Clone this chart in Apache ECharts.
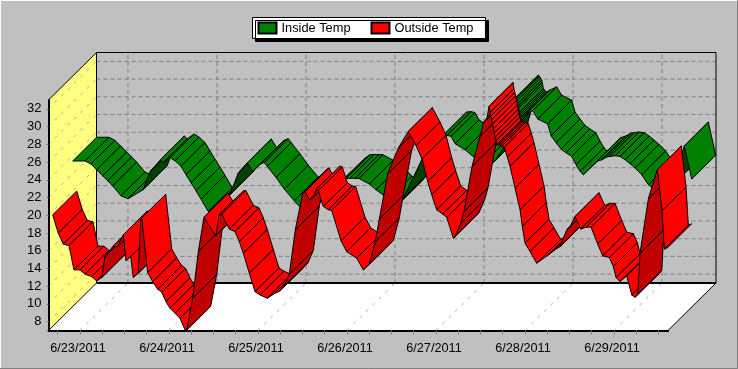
<!DOCTYPE html>
<html>
<head>
<meta charset="utf-8">
<title>Temp</title>
<script src="https://cdn.jsdelivr.net/npm/echarts@6/dist/echarts.min.js"></script>
<style>
  html, body { margin: 0; padding: 0; background: #c0c0c0; }
  #chart { width: 738px; height: 369px; }
</style>
</head>
<body>
<div id="chart"></div>
<script>
// hours are counted from 6/23/2011 00:00
const dayLabels = ["6/23/2011", "6/24/2011", "6/25/2011", "6/26/2011", "6/27/2011", "6/28/2011", "6/29/2011"];
const dayTicks = [0, 24, 48, 72, 96, 120, 144];
const xTicks = [-6, 0, 6, 12, 18, 24, 30, 36, 42, 48, 54, 60, 66, 72, 78, 84, 90, 96, 102, 108, 114, 120, 126, 132, 138, 144, 150, 156];
const yTicks = [8, 10, 12, 14, 16, 18, 20, 22, 24, 26, 28, 30, 32];

const insideHours = [-8.44, -5.12, -3.51, -1.97, -0.35, 1.0, 2.35, 4.58, 6.47, 10.52, 12.41, 15.24, 15.91, 17.8, 19.15, 20.77, 22.12, 23.46, 24.81, 26.16, 28.13, 30.21, 32.09, 33.98, 36.22, 38.65, 40.1, 42.15, 43.23, 44.04, 46.39, 48.63, 51.32, 52.86, 58.52, 59.6, 60.68, 61.76, 62.84, 63.92, 65.27, 66.35, 67.69, 68.77, 71.55, 73.35, 75.25, 76.59, 77.94, 79.29, 80.72, 85.68, 87.92, 89.81, 91.35, 92.51, 93.59, 94.67, 97.36, 100.06, 102.49, 104.1, 105.64, 107.69, 108.69, 109.5, 110.04, 110.66, 110.9, 111.23, 111.57, 111.71, 111.84, 112.0, 112.25, 112.57, 112.92, 113.81, 115.62, 116.97, 119.66, 120.56, 121.9, 123.25, 124.6, 126.14, 127.3, 128.38, 129.27, 130.62, 131.96, 132.88, 134.23, 135.58, 136.47, 137.82, 139.17, 140.52, 141.86, 143.21, 145.02, 146.8, 148.15, 149.33, 153.22, 156.5, 158.5];
const insideTemp = [23.44, 23.44, 23.1, 22.45, 21.77, 21.21, 20.64, 19.51, 19.18, 20.19, 22.23, 23.58, 23.24, 23.81, 23.47, 22.85, 21.89, 20.98, 20.08, 19.14, 17.74, 18.38, 18.95, 19.63, 22.11, 23.24, 22.26, 23.1, 23.28, 22.83, 21.58, 20.27, 18.95, 18.24, 18.84, 19.29, 19.74, 20.19, 20.64, 21.1, 21.47, 21.49, 21.49, 21.47, 20.84, 20.19, 19.63, 19.06, 18.27, 18.5, 19.25, 23.58, 24.6, 25.5, 26.29, 26.33, 26.22, 25.39, 24.71, 23.77, 23.24, 22.9, 23.58, 24.9, 26.41, 28.33, 29.46, 30.44, 30.31, 30.14, 29.88, 29.63, 29.4, 28.93, 28.78, 28.67, 28.55, 28.78, 29.12, 28.18, 27.62, 26.29, 25.5, 24.79, 24.37, 23.96, 23.02, 22.26, 21.89, 22.45, 23.02, 23.39, 23.58, 23.89, 23.96, 24.03, 23.96, 23.58, 23.13, 22.64, 21.89, 20.76, 20.38, 19.89, 20.64, 25.16, 21.4];

const outsideHours = [-7.36, -5.85, -4.5, -2.97, -1.62, 0, 1.35, 3.16, 4.5, 5.85, 6.74, 8.82, 10.06, 11.68, 12.41, 13.67, 14.37, 15.72, 16.37, 16.64, 18.26, 19.61, 20.96, 22.03, 23.19, 24.27, 25.62, 26.97, 28.32, 28.78, 30.39, 31.91, 33.44, 36.6, 37.49, 38.22, 40.27, 41.8, 42.96, 44.04, 45.66, 47.2, 48.55, 50.51, 52.59, 53.94, 55.1, 56.45, 58.07, 60.06, 60.68, 61.84, 62.92, 63.65, 64.27, 65.62, 66.97, 67.88, 70.39, 71.93, 74.62, 76.4, 78.02, 79.64, 80.72, 82.98, 85.85, 88.54, 90.62, 92.24, 93.77, 94.85, 96.2, 97.82, 98.9, 100.68, 101.14, 102.67, 103.56, 105.72, 107.88, 108.77, 109.77, 110.31, 110.57, 110.79, 111.03, 111.27, 111.51, 111.74, 111.97, 112.19, 112.38, 112.81, 113.27, 113.73, 114.43, 115.24, 115.97, 117.32, 118.67, 119.29, 120.02, 121.37, 123.17, 126.3, 128.11, 129.46, 131.26, 132.15, 133.5, 135.04, 136.47, 137.82, 139.62, 140.97, 142.75, 143.83, 144.56, 145.64, 147.44, 148.79, 149.68, 150.41, 151.03, 153.27, 155.53, 155.69, 156.96, 157.58, 158.5];
const outsideTemp = [20.05, 17.98, 16.74, 16.58, 13.84, 13.84, 13.35, 13.08, 12.59, 12.97, 15.34, 16.47, 16.44, 17.79, 14.85, 15.34, 12.97, 13.46, 19.49, 19.68, 13.53, 12.51, 11.66, 11.32, 10.25, 9.51, 8.94, 8.38, 7.06, 7.06, 10.64, 15.9, 19.79, 17.68, 20.05, 20.13, 18.44, 18.16, 17.03, 15.72, 13.46, 11.38, 11.01, 10.64, 11.2, 11.46, 12.03, 13.35, 18.36, 22.5, 22.65, 21.75, 21.97, 22.88, 22.76, 20.99, 20.62, 20.56, 17.11, 15.9, 15.16, 13.84, 14.48, 17.03, 19.57, 24.65, 27.59, 29.46, 27.85, 26.35, 23.81, 22.31, 20.62, 20.13, 19.75, 17.42, 17.6, 19.11, 20.42, 25.51, 28.9, 30.41, 31.01, 32.29, 31.58, 31.18, 30.79, 30.28, 29.77, 29.28, 28.81, 28.41, 27.96, 27.93, 27.85, 27.77, 27.66, 26.57, 25.51, 23.07, 20.62, 18.73, 16.85, 15.9, 14.59, 15.53, 16.1, 16.47, 18.36, 18.73, 19.86, 18.44, 18.66, 18.66, 16.74, 15.42, 15.23, 14.21, 12.97, 12.51, 13.16, 11.01, 10.75, 11.09, 15.72, 21.86, 24.94, 25.14, 20.5, 16.18, 16.36];

const X_MIN = -8.49;
const X_MAX = 158.57;
const Y_MIN = 7;
const Y_MAX = 33;
// projected depth of the whole box and of one ribbon, px
const DEPTH_X = 48;
const DEPTH_Y = -47.5;
const RIBBON_X = 24;
const RIBBON_Y = -23.75;

const GRID_COLOR = "#808080";
const WALL_DASH = "#a8a8a8";

function segments(hours, temps) {
  const out = [];
  for (let i = 0; i < hours.length - 1; i++) {
    out.push([hours[i], temps[i], hours[i + 1], temps[i + 1]]);
  }
  return out;
}

// one face of the ribbon per pair of points, left to right
function ribbonRenderer(offset, bright, dark) {
  return function (params, api) {
    const a = api.coord([api.value(0), api.value(1)]);
    const b = api.coord([api.value(2), api.value(3)]);
    const ox = offset * RIBBON_X;
    const oy = offset * RIBBON_Y;
    const facing = b[0] - a[0] + (b[1] - a[1]) > 0;
    return {
      type: "polygon",
      shape: {
        points: [
          [a[0] + ox, a[1] + oy],
          [b[0] + ox, b[1] + oy],
          [b[0] + ox + RIBBON_X, b[1] + oy + RIBBON_Y],
          [a[0] + ox + RIBBON_X, a[1] + oy + RIBBON_Y],
        ],
      },
      style: { fill: facing ? bright : dark, stroke: "#000", lineWidth: 1 },
    };
  };
}

function line(p, q, color, width, dash) {
  return {
    type: "line",
    shape: { x1: p[0], y1: p[1], x2: q[0], y2: q[1] },
    style: { stroke: color, lineWidth: width, lineDash: dash || null },
  };
}

function renderBox(params, api) {
  const bl = api.coord([X_MIN, Y_MIN]);
  const tl = api.coord([X_MIN, Y_MAX]);
  const br = api.coord([X_MAX, Y_MIN]);
  const back = (p) => [p[0] + DEPTH_X, p[1] + DEPTH_Y];
  const tr = api.coord([X_MAX, Y_MAX]);
  const children = [
    {
      type: "polygon",
      shape: { points: [tl, back(tl), back(bl), bl] },
      style: { fill: "#ffff80" },
    },
    {
      type: "polygon",
      shape: { points: [bl, br, back(br), back(bl)] },
      style: { fill: "#fff" },
    },
  ];
  yTicks.forEach((v) => {
    const p = api.coord([X_MIN, v]);
    children.push(line(p, back(p), WALL_DASH, 1, [3, 6]));
    children.push(line(back(p), back(api.coord([X_MAX, v])), GRID_COLOR, 1, [4, 3]));
  });
  dayTicks.forEach((h) => {
    const p = api.coord([h, Y_MIN]);
    children.push(line(p, back(p), WALL_DASH, 1, [3, 6]));
    children.push(line(back(p), back(api.coord([h, Y_MAX])), GRID_COLOR, 1, [4, 3]));
  });
  children.push(line(tl, back(tl), "#000", 1));
  children.push(line(back(tl), back(tr), "#000", 1));
  children.push(line(back(tr), back(br), "#000", 1));
  children.push(line(back(tl), back(bl), "#000", 1));
  children.push(line(back(bl), back(br), "#000", 2));
  children.push(line(bl, back(bl), "#000", 1));
  children.push(line(br, back(br), "#000", 1));
  return { type: "group", children: children };
}

const chart = echarts.init(document.getElementById("chart"));
chart.setOption({
  animation: false,
  backgroundColor: "#c0c0c0",
  textStyle: { fontFamily: "Liberation Sans" },
  graphic: [
    { type: "polyline", shape: { points: [[0.5, 368], [0.5, 0.5], [737, 0.5]] }, style: { stroke: "#fff", fill: null, lineWidth: 1 }, z: 0 },
    { type: "polyline", shape: { points: [[0, 368.5], [737.5, 368.5], [737.5, 0]] }, style: { stroke: "#808080", fill: null, lineWidth: 1 }, z: 0 },
  ],
  legend: {
    data: [
      { name: "Inside Temp", icon: "rect" },
      { name: "Outside Temp", icon: "rect" },
    ],
    left: 252.5,
    top: 17.5,
    orient: "horizontal",
    itemWidth: 18,
    itemHeight: 11,
    itemGap: 20,
    padding: [4, 12, 4, 5],
    backgroundColor: "#fff",
    borderColor: "#000",
    borderWidth: 1,
    shadowColor: "#000",
    shadowOffsetX: 3,
    shadowOffsetY: 3,
    shadowBlur: 0,
    textStyle: { color: "#000", fontSize: 12.8, fontFamily: "Liberation Sans" },
    selectedMode: false,
  },
  grid: { left: 48.5, right: 70, top: 100, bottom: 38.5 },
  xAxis: {
    type: "value",
    min: X_MIN,
    max: X_MAX,
    z: 1,
    splitLine: { show: false },
    axisLine: { onZero: false, lineStyle: { color: "#000", width: 2 } },
    axisTick: { length: 4, lineStyle: { color: "#808080" }, customValues: xTicks },
    axisLabel: {
      color: "#000",
      fontSize: 12.7,
      margin: 11,
      padding: [0, 4, 0, 0],
      customValues: dayTicks,
      formatter: (v) => dayLabels[dayTicks.indexOf(v)],
    },
  },
  yAxis: {
    type: "value",
    min: Y_MIN,
    max: Y_MAX,
    z: 1,
    splitLine: { show: false },
    axisLine: { onZero: false, lineStyle: { color: "#000", width: 2 } },
    axisTick: { length: 2, lineStyle: { color: "#808080" }, customValues: yTicks },
    axisLabel: { color: "#000", fontSize: 13, margin: 7, padding: [2, 0, 0, 0], customValues: yTicks },
  },
  series: [
    {
      name: "box",
      type: "custom",
      z: 0,
      silent: true,
      clip: false,
      renderItem: renderBox,
      data: [[0, 0]],
    },
    {
      name: "Inside Temp",
      type: "custom",
      z: 3,
      clip: false,
      itemStyle: { color: "#008000", borderColor: "#000", borderWidth: 1 },
      renderItem: ribbonRenderer(1, "#008000", "#004000"),
      encode: { x: [0, 2], y: [1, 3] },
      data: segments(insideHours, insideTemp),
    },
    {
      name: "Outside Temp",
      type: "custom",
      z: 4,
      clip: false,
      itemStyle: { color: "#ff0000", borderColor: "#000", borderWidth: 1 },
      renderItem: ribbonRenderer(0, "#ff0000", "#c00000"),
      encode: { x: [0, 2], y: [1, 3] },
      data: segments(outsideHours, outsideTemp),
    },
  ],
});
</script>
</body>
</html>
